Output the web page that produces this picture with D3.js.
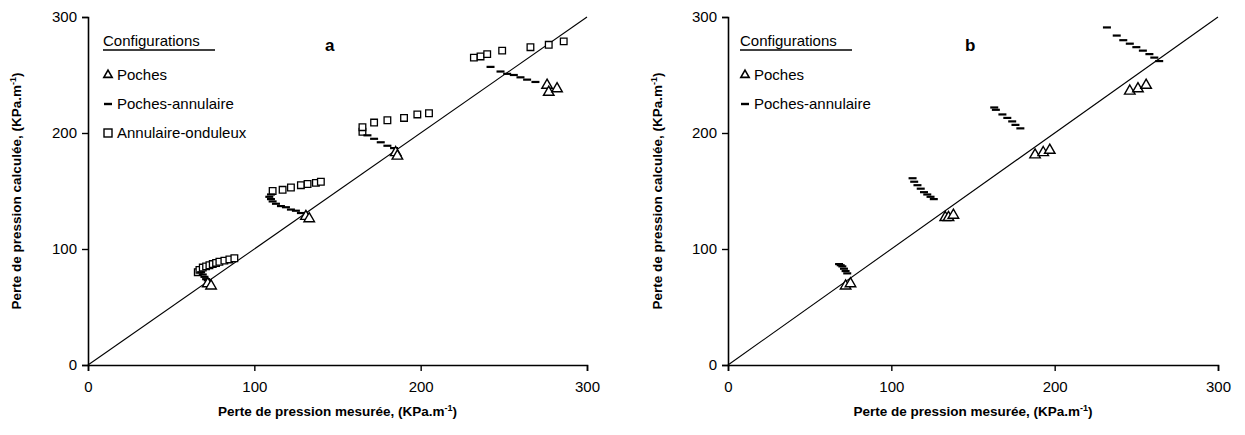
<!DOCTYPE html>
<html><head><meta charset="utf-8">
<script src="https://cdn.jsdelivr.net/npm/d3@7"></script>
<style>body{margin:0;background:#fff}svg{display:block}text{font-family:"Liberation Sans",Arial,sans-serif;fill:#000}</style>
</head><body><svg id="c" width="1245" height="435"></svg>
<script>
// ---- data ----
const ticks = [0, 100, 200, 300];
const aPochesX = [72, 74, 131, 133, 185, 186, 276, 277, 282];
const aPochesY = [71, 69, 129, 127, 184, 181, 242, 236, 239];
const aPAX = [68, 69, 70, 71, 72, 110, 109, 110, 111, 113, 116, 119, 122, 125, 128, 168, 172, 176, 180, 184, 242, 248, 252, 256, 260, 264, 269];
const aPAY = [80, 78, 76, 74, 73, 147, 145, 143, 141, 139, 137, 136, 134, 133, 131, 198, 195, 192, 189, 187, 257, 253, 251, 250, 248, 246, 244];
const aAOX = [66, 67, 69, 71, 73, 75, 77, 79, 82, 85, 88, 111, 117, 122, 128, 132, 137, 140, 165, 165, 172, 180, 190, 198, 205, 232, 236, 240, 249, 266, 277, 286];
const aAOY = [80, 82, 84, 85, 86, 87, 88, 89, 90, 91, 92, 150, 151, 153, 155, 156, 157, 158, 201, 205, 209, 211, 213, 216, 217, 265, 266, 268, 271, 274, 276, 279];
const bPochesX = [72, 75, 133, 135, 138, 188, 193, 197, 246, 251, 256];
const bPochesY = [69, 71, 128, 128, 130, 182, 184, 186, 237, 239, 242];
const bPAX = [68, 69, 70, 71, 72, 73, 113, 114, 116, 118, 120, 122, 124, 126, 163, 164, 168, 171, 174, 176, 179, 232, 238, 242, 246, 250, 254, 258, 261, 264];
const bPAY = [87, 86, 85, 83, 81, 79, 161, 158, 155, 152, 149, 147, 145, 143, 222, 220, 216, 213, 210, 207, 204, 291, 284, 280, 277, 274, 271, 268, 265, 262];
const legendA = ["Poches", "Poches-annulaire", "Annulaire-onduleux"];
const legendB = ["Poches", "Poches-annulaire"];

const svg = d3.select("#c");
function panel(o) {
  const g = svg.append("g");
  const x = d3.scaleLinear().domain([0, 300]).range([o.x0, o.x1]);
  const y = d3.scaleLinear().domain([0, 300]).range([o.y0, o.y1]);
  const xa = g.append("g").attr("transform", `translate(0,${o.y0})`)
    .call(d3.axisBottom(x).tickValues(ticks).tickSize(6).tickPadding(10).tickFormat(d3.format("d")));
  const ya = g.append("g").attr("transform", `translate(${o.x0},0)`)
    .call(d3.axisLeft(y).tickValues(ticks).tickSize(6).tickPadding(5).tickFormat(d3.format("d")));
  [xa, ya].forEach(a => {
    a.select(".domain").attr("stroke", "#000").attr("stroke-width", 1.6);
    a.selectAll(".tick line").attr("stroke", "#000").attr("stroke-width", 1.4);
    a.selectAll("text").attr("font-size", 15).attr("font-family", "Liberation Sans, Arial");
  });
  g.append("line").attr("x1", x(0)).attr("y1", y(0)).attr("x2", x(300)).attr("y2", y(300))
    .attr("stroke", "#000").attr("stroke-width", 1.1);
  const tri = d3.symbol().type(d3.symbolTriangle).size(48);
  const sq = d3.symbol().type(d3.symbolSquare).size(44);
  if (o.aoX) g.selectAll(".sq").data(o.aoX).join("path").attr("d", sq)
    .attr("transform", (d, i) => `translate(${x(d)},${y(o.aoY[i])})`).attr("fill", "#fff").attr("stroke", "#000").attr("stroke-width", 1.3);
  g.selectAll(".da").data(o.paX).join("line")
    .attr("x1", (d) => x(d) - 4).attr("x2", (d) => x(d) + 4)
    .attr("y1", (d, i) => y(o.paY[i])).attr("y2", (d, i) => y(o.paY[i]))
    .attr("stroke", "#000").attr("stroke-width", 2.2);
  g.selectAll(".tr").data(o.pX).join("path").attr("d", tri)
    .attr("transform", (d, i) => `translate(${x(d)},${y(o.pY[i]) + 1})`).attr("fill", "#fff").attr("stroke", "#000").attr("stroke-width", 1.4);
  const xt = g.append("text").attr("x", (o.x0 + o.x1) / 2).attr("y", 416).attr("text-anchor", "middle")
    .attr("font-size", 13.5).attr("font-weight", "bold");
  xt.append("tspan").text("Perte de pression mesurée, (KPa.m");
  xt.append("tspan").attr("dy", -5).attr("font-size", 9).text("-1");
  xt.append("tspan").attr("dy", 5).text(")");
  const yt = g.append("text").attr("transform", `translate(${o.ytx},${(o.y0 + o.y1) / 2}) rotate(-90)`).attr("text-anchor", "middle")
    .attr("font-size", 13.5).attr("font-weight", "bold");
  yt.append("tspan").text("Perte de pression calculée, (KPa.m");
  yt.append("tspan").attr("dy", -5).attr("font-size", 9).text("-1");
  yt.append("tspan").attr("dy", 5).text(")");
  g.append("text").attr("x", o.lx).attr("y", 51).attr("font-size", 17).attr("font-weight", "bold").text(o.letter);
  const lg = g.append("g").attr("transform", `translate(${o.legX},0)`);
  lg.append("text").attr("x", 0).attr("y", 46).attr("font-size", 15).text("Configurations");
  lg.append("line").attr("x1", 0).attr("x2", 112).attr("y1", 50).attr("y2", 50).attr("stroke", "#000").attr("stroke-width", 1.5);
  o.legend.forEach((name, i) => {
    const yy = 80 + i * 29;
    if (i === 0) lg.append("path").attr("d", d3.symbol().type(d3.symbolTriangle).size(30)).attr("transform", `translate(5,${yy - 5})`).attr("fill", "#fff").attr("stroke", "#000").attr("stroke-width", 1.6);
    if (i === 1) lg.append("line").attr("x1", 1).attr("x2", 9).attr("y1", yy - 5).attr("y2", yy - 5).attr("stroke", "#000").attr("stroke-width", 2.4);
    if (i === 2) lg.append("rect").attr("x", 1).attr("y", yy - 9).attr("width", 8).attr("height", 8).attr("fill", "#fff").attr("stroke", "#000").attr("stroke-width", 1.4);
    lg.append("text").attr("x", 14).attr("y", yy).attr("font-size", 15).text(name);
  });
}
panel({ x0: 88, x1: 587, y0: 365, y1: 17, ytx: 21, lx: 325, letter: "a", legX: 103,
  pX: aPochesX, pY: aPochesY, paX: aPAX, paY: aPAY, aoX: aAOX, aoY: aAOY, legend: legendA });
panel({ x0: 728, x1: 1218, y0: 365, y1: 17, ytx: 662, lx: 965, letter: "b", legX: 740,
  pX: bPochesX, pY: bPochesY, paX: bPAX, paY: bPAY, legend: legendB });
</script></body></html>
